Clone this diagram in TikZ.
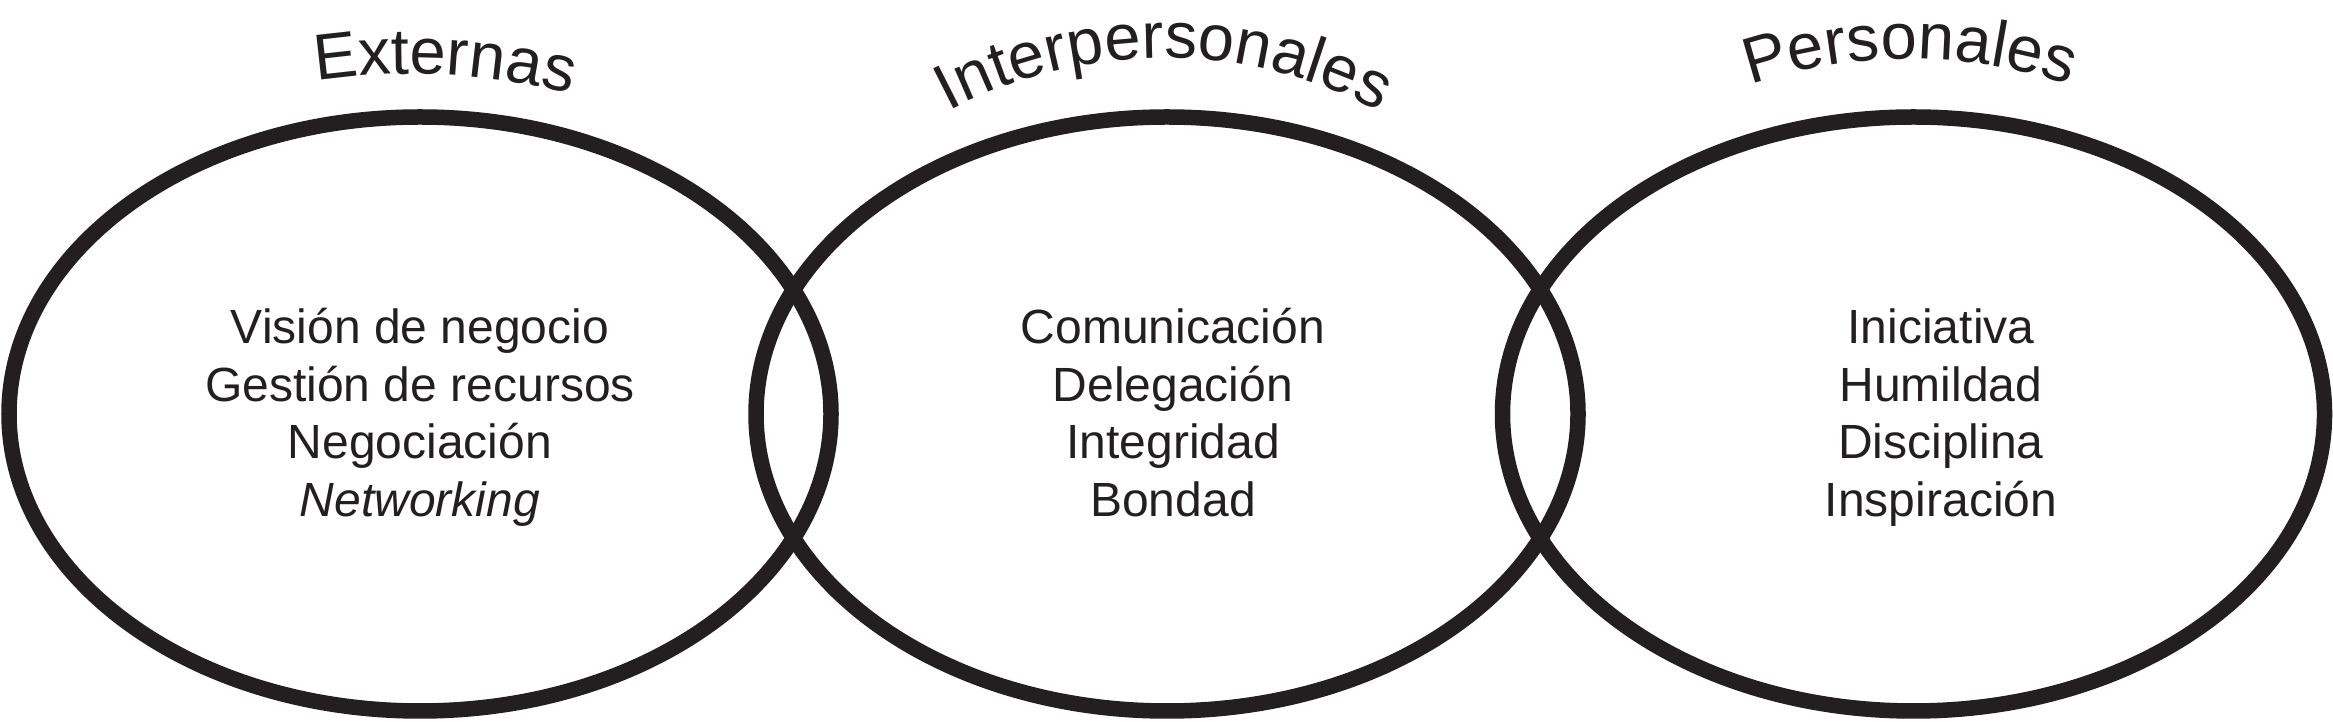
\documentclass[tikz,border=0pt]{standalone}
\usepackage{fontspec}
\setmainfont{Liberation Sans}
\usetikzlibrary{shapes.geometric,decorations.text}
\definecolor{ink}{HTML}{231F20}
\newcommand{\bodyfont}{\fontsize{48}{57}\selectfont}
\newcommand{\titlefnt}{\fontsize{65}{65}\selectfont}
\tikzset{
  ring/.style={ellipse, draw=ink, line width=15.5pt, inner sep=0pt, outer sep=0pt,
    minimum width=822pt, minimum height=594pt},
  item/.style={anchor=base, text=ink, font=\bodyfont, inner sep=0pt},
  arctitle/.style={decorate, decoration={text along path, text align=center,
    text color=ink, text={|\titlefnt|#1}}}
}
\begin{document}
\begin{tikzpicture}[x=1pt,y=1pt]
\useasboundingbox (0,0) rectangle (2333,722);
% ellipses
\node[ring] (e1) at (420,308) {};
\node[ring] (e2) at (1167,308) {};
\node[ring] (e3) at (1913.5,308) {};
% titles
\path[arctitle=Externas] (410,-2) ++(127:650pt) arc[start angle=127, end angle=47, radius=650pt];
\path[arctitle=Interpersonales] (1164,204) ++(130:460pt) arc[start angle=130, end angle=50, radius=460pt];
\path[arctitle=Personales] (1910,163) ++(130:500pt) arc[start angle=130, end angle=50, radius=500pt];
% left items
\node[item] (a1) at (420,378) {Visión de negocio};
\node[item] (a2) at (420,320) {Gestión de recursos};
\node[item] (a3) at (420,263) {Negociación};
\node[item] (a4) at (420,205) {\itshape Networking};
% middle items
\node[item] (b1) at (1173,378) {Comunicación};
\node[item] (b2) at (1173,320) {Delegación};
\node[item] (b3) at (1173,263) {Integridad};
\node[item] (b4) at (1173,205) {Bondad};
% right items
\node[item] (c1) at (1941,378) {Iniciativa};
\node[item] (c2) at (1941,320) {Humildad};
\node[item] (c3) at (1941,263) {Disciplina};
\node[item] (c4) at (1941,205) {Inspiración};
\end{tikzpicture}
\end{document}
